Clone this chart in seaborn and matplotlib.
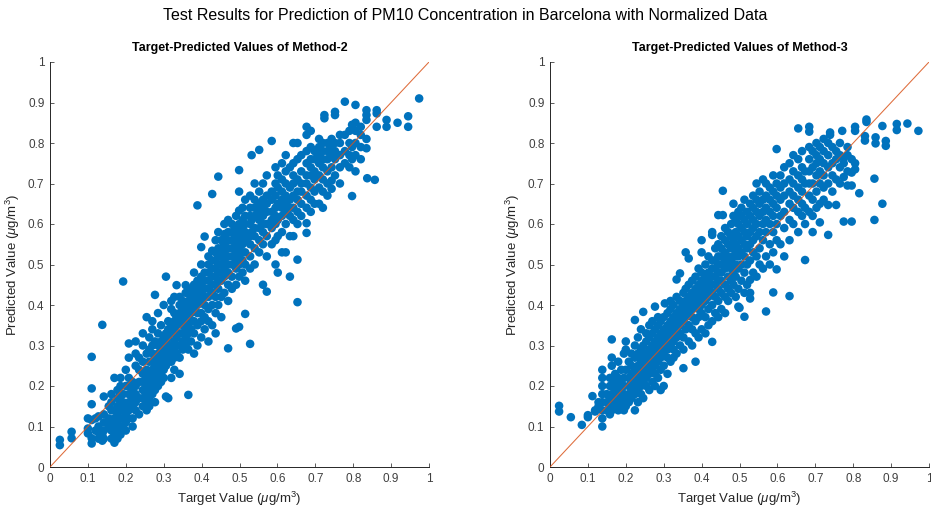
import matplotlib
matplotlib.use("Agg")
import matplotlib.pyplot as plt
import seaborn as sns
import numpy as np
import pandas as pd
from matplotlib.ticker import FuncFormatter, MultipleLocator

# ---------------- data ----------------
suptitle = "Test Results for Prediction of PM10 Concentration in Barcelona with Normalized Data"
titles = ["Target-Predicted Values of Method-2", "Target-Predicted Values of Method-3"]
xlabel = r"Target Value ($\mathit{\mu}$g/m$^3$)"
ylabel = r"Predicted Value ($\mathit{\mu}$g/m$^3$)"
tick_values = [0, 0.1, 0.2, 0.3, 0.4, 0.5, 0.6, 0.7, 0.8, 0.9, 1]

# Method-2: target value columns and the predicted values found in each column
m2_target = [0.026, 0.057, 0.100, 0.110, 0.120, 0.128, 0.138, 0.142, 0.155, 0.162,
             0.170, 0.178, 0.186, 0.193, 0.200, 0.208, 0.218, 0.226, 0.235, 0.245,
             0.255, 0.262, 0.270, 0.277, 0.285, 0.293, 0.300, 0.306, 0.312, 0.320,
             0.328, 0.334, 0.342, 0.350, 0.358, 0.365, 0.372, 0.380, 0.389, 0.399,
             0.408, 0.418, 0.428, 0.437, 0.444, 0.452, 0.460, 0.470, 0.480, 0.491,
             0.499, 0.508, 0.515, 0.528, 0.532, 0.540, 0.552, 0.562, 0.572, 0.585,
             0.595, 0.601, 0.612, 0.622, 0.633, 0.642, 0.653, 0.663, 0.677, 0.688,
             0.698, 0.710, 0.720, 0.724, 0.732, 0.743, 0.752, 0.765, 0.778, 0.790,
             0.797, 0.806, 0.820, 0.835, 0.837, 0.857, 0.862, 0.888, 0.917, 0.945,
             0.974]
m2_pred = [
    [0.054, 0.067], [0.071, 0.087], [0.083, 0.095, 0.12],
    [0.058, 0.071, 0.116, 0.155, 0.194, 0.272], [0.09, 0.12],
    [0.07, 0.085, 0.1, 0.125], [0.351, 0.065, 0.08],
    [0.07, 0.09, 0.11, 0.13, 0.174], [0.1, 0.12, 0.15],
    [0.07, 0.09, 0.11, 0.14, 0.16, 0.18],
    [0.06, 0.08, 0.1, 0.12, 0.14, 0.22],
    [0.07, 0.09, 0.11, 0.13, 0.15, 0.17, 0.19],
    [0.08, 0.1, 0.12, 0.14, 0.16, 0.18, 0.2, 0.22],
    [0.458, 0.1, 0.12, 0.14, 0.16, 0.18],
    [0.09, 0.11, 0.13, 0.15, 0.2, 0.24],
    [0.12, 0.14, 0.16, 0.18, 0.2, 0.22, 0.305, 0.27],
    [0.1, 0.12, 0.15, 0.17, 0.19, 0.21],
    [0.14, 0.16, 0.18, 0.2, 0.25, 0.28, 0.31],
    [0.13, 0.17, 0.21, 0.24, 0.27],
    [0.15, 0.17, 0.19, 0.21, 0.23, 0.26, 0.3, 0.33],
    [0.14, 0.16, 0.18, 0.2, 0.22, 0.24, 0.28, 0.37],
    [0.15, 0.17, 0.19, 0.21, 0.23, 0.26, 0.29, 0.32],
    [0.18, 0.2, 0.22, 0.24, 0.26, 0.28, 0.3, 0.34, 0.36],
    [0.16, 0.19, 0.21, 0.23, 0.25, 0.27, 0.31, 0.425],
    [0.2, 0.22, 0.24, 0.26, 0.28, 0.3, 0.33, 0.38],
    [0.21, 0.23, 0.25, 0.27, 0.29, 0.31, 0.35],
    [0.22, 0.24, 0.26, 0.28, 0.3, 0.32, 0.4],
    [0.174, 0.25, 0.27, 0.29, 0.31, 0.33, 0.47],
    [0.17, 0.26, 0.28, 0.3, 0.32, 0.34, 0.36],
    [0.22, 0.26, 0.28, 0.3, 0.33, 0.35, 0.39, 0.41],
    [0.24, 0.27, 0.29, 0.31, 0.34, 0.36, 0.38, 0.42],
    [0.28, 0.3, 0.32, 0.35, 0.37, 0.449],
    [0.23, 0.27, 0.3, 0.33, 0.36, 0.38, 0.4, 0.42],
    [0.29, 0.31, 0.33, 0.35, 0.37, 0.39, 0.41],
    [0.3, 0.32, 0.34, 0.36, 0.38, 0.4, 0.43, 0.449],
    [0.178, 0.29, 0.33, 0.35, 0.37, 0.39, 0.41],
    [0.31, 0.34, 0.36, 0.38, 0.4, 0.42, 0.44],
    [0.28, 0.33, 0.36, 0.39, 0.41, 0.43, 0.45, 0.48],
    [0.3, 0.35, 0.38, 0.4, 0.42, 0.44, 0.46, 0.646],
    [0.32, 0.36, 0.38, 0.41, 0.43, 0.45, 0.47, 0.5, 0.543],
    [0.34, 0.37, 0.4, 0.42, 0.44, 0.46, 0.48, 0.569],
    [0.31, 0.36, 0.39, 0.42, 0.44, 0.46, 0.48, 0.5, 0.52],
    [0.35, 0.4, 0.43, 0.45, 0.47, 0.49, 0.51, 0.534, 0.674],
    [0.33, 0.38, 0.42, 0.45, 0.47, 0.49, 0.51, 0.53, 0.56],
    [0.4, 0.44, 0.46, 0.48, 0.5, 0.52, 0.54, 0.58, 0.717],
    [0.37, 0.42, 0.46, 0.48, 0.5, 0.52, 0.54, 0.56],
    [0.43, 0.47, 0.49, 0.51, 0.53, 0.55, 0.575, 0.6],
    [0.293, 0.41, 0.45, 0.48, 0.5, 0.52, 0.54, 0.56, 0.58, 0.61],
    [0.44, 0.47, 0.5, 0.52, 0.54, 0.56, 0.58, 0.6],
    [0.342, 0.45, 0.49, 0.51, 0.53, 0.55, 0.57, 0.59, 0.62],
    [0.346, 0.47, 0.5, 0.52, 0.54, 0.56, 0.58, 0.6, 0.633, 0.68, 0.733],
    [0.48, 0.51, 0.53, 0.55, 0.57, 0.59, 0.61, 0.64],
    [0.378, 0.46, 0.5, 0.53, 0.56, 0.58, 0.6, 0.62, 0.66],
    [0.304, 0.49, 0.52, 0.55, 0.57, 0.6, 0.62, 0.64, 0.67],
    [0.77, 0.58, 0.61],
    [0.5, 0.54, 0.57, 0.59, 0.62, 0.64, 0.66, 0.7],
    [0.53, 0.56, 0.59, 0.61, 0.63, 0.65, 0.68, 0.783],
    [0.45, 0.55, 0.58, 0.6, 0.62, 0.64, 0.66, 0.7],
    [0.433, 0.52, 0.57, 0.6, 0.63, 0.65, 0.67, 0.72],
    [0.55, 0.59, 0.61, 0.63, 0.66, 0.68, 0.805],
    [0.5, 0.56, 0.6, 0.62, 0.64, 0.67, 0.7, 0.74],
    [0.48, 0.57, 0.61, 0.65, 0.69, 0.72],
    [0.53, 0.58, 0.62, 0.64, 0.66, 0.68, 0.71, 0.75],
    [0.53, 0.6, 0.63, 0.65, 0.67, 0.7, 0.73, 0.77],
    [0.47, 0.57, 0.62, 0.64, 0.66, 0.69, 0.74],
    [0.57, 0.61, 0.64, 0.67, 0.7, 0.72, 0.75, 0.8],
    [0.407, 0.512, 0.6, 0.63, 0.66, 0.68, 0.71, 0.76, 0.8],
    [0.62, 0.65, 0.68, 0.7, 0.73, 0.77],
    [0.578, 0.602, 0.64, 0.67, 0.7, 0.72, 0.75, 0.78, 0.82, 0.84],
    [0.63, 0.66, 0.69, 0.72, 0.74, 0.76, 0.79, 0.83],
    [0.65, 0.68, 0.71, 0.73, 0.76, 0.78],
    [0.65, 0.69, 0.72, 0.75, 0.77, 0.79, 0.81],
    [0.64, 0.68, 0.71, 0.74, 0.76, 0.78, 0.8],
    [0.861, 0.869],
    [0.67, 0.7, 0.73, 0.76, 0.78, 0.8],
    [0.687, 0.707, 0.74, 0.77, 0.79, 0.81],
    [0.72, 0.76, 0.78, 0.8, 0.869, 0.877],
    [0.7, 0.74, 0.77, 0.8, 0.82],
    [0.75, 0.78, 0.82, 0.902],
    [0.74, 0.77, 0.8, 0.83],
    [0.669, 0.76, 0.79, 0.845],
    [0.73, 0.77, 0.8, 0.83, 0.85, 0.894],
    [0.76, 0.79, 0.82, 0.84],
    [0.787, 0.81, 0.857, 0.869, 0.881],
    [0.713], [0.709], [0.84, 0.873, 0.881], [0.84, 0.857], [0.85],
    [0.84, 0.866], [0.91],
]

# Method-3: target value columns and the predicted values found in each column
m3_target = [0.024, 0.055, 0.084, 0.100, 0.112, 0.119, 0.128, 0.138, 0.150, 0.158,
             0.163, 0.172, 0.180, 0.188, 0.195, 0.200, 0.208, 0.215, 0.224, 0.232,
             0.240, 0.246, 0.254, 0.262, 0.270, 0.277, 0.285, 0.292, 0.300, 0.303,
             0.310, 0.318, 0.326, 0.334, 0.343, 0.352, 0.358, 0.366, 0.375, 0.384,
             0.392, 0.400, 0.410, 0.418, 0.428, 0.436, 0.444, 0.452, 0.456, 0.462,
             0.470, 0.478, 0.484, 0.490, 0.497, 0.500, 0.505, 0.513, 0.520, 0.528,
             0.536, 0.545, 0.553, 0.562, 0.570, 0.580, 0.589, 0.598, 0.608, 0.618,
             0.632, 0.642, 0.655, 0.665, 0.673, 0.684, 0.693, 0.703, 0.712, 0.722,
             0.734, 0.739, 0.745, 0.755, 0.765, 0.771, 0.775, 0.785, 0.796, 0.805,
             0.816, 0.831, 0.835, 0.856, 0.859, 0.877, 0.886, 0.915, 0.943, 0.972]
m3_pred = [
    [0.137, 0.151], [0.123], [0.104], [0.123, 0.128], [0.175], [0.137, 0.14],
    [0.15, 0.16],
    [0.1, 0.12, 0.14, 0.16, 0.18, 0.2, 0.22, 0.24],
    [0.14, 0.16, 0.18],
    [0.13, 0.15, 0.17, 0.2, 0.22],
    [0.14, 0.16, 0.18, 0.2, 0.25, 0.27, 0.315],
    [0.15, 0.17, 0.19, 0.21, 0.23],
    [0.14, 0.16, 0.18, 0.2, 0.22, 0.26],
    [0.15, 0.17, 0.19, 0.21, 0.24],
    [0.14, 0.16, 0.18, 0.2, 0.22, 0.28],
    [0.15, 0.17, 0.24, 0.29, 0.31],
    [0.16, 0.18, 0.2, 0.22, 0.26],
    [0.17, 0.19, 0.21, 0.23, 0.25, 0.28],
    [0.14, 0.18, 0.2, 0.22, 0.24, 0.27, 0.3, 0.363],
    [0.16, 0.19, 0.21, 0.23, 0.25, 0.28, 0.32],
    [0.18, 0.2, 0.22, 0.24, 0.26, 0.29, 0.34],
    [0.17, 0.21, 0.23, 0.25, 0.27, 0.3, 0.383],
    [0.2, 0.22, 0.24, 0.26, 0.28, 0.31, 0.33],
    [0.19, 0.23, 0.25, 0.27, 0.29, 0.32, 0.35],
    [0.21, 0.24, 0.26, 0.28, 0.3, 0.33, 0.36],
    [0.2, 0.23, 0.25, 0.27, 0.29, 0.31, 0.34, 0.396],
    [0.22, 0.26, 0.28, 0.3, 0.32, 0.35, 0.37],
    [0.19, 0.24, 0.27, 0.29, 0.31, 0.33, 0.36],
    [0.2, 0.25, 0.28, 0.3, 0.32, 0.34, 0.37],
    [0.404],
    [0.23, 0.27, 0.29, 0.31, 0.33, 0.35, 0.38],
    [0.26, 0.3, 0.32, 0.34, 0.36, 0.39, 0.41],
    [0.27, 0.29, 0.31, 0.33, 0.35, 0.37, 0.4],
    [0.28, 0.32, 0.34, 0.36, 0.38, 0.42, 0.463],
    [0.3, 0.33, 0.35, 0.37, 0.39, 0.41, 0.478],
    [0.244, 0.29, 0.32, 0.36, 0.38, 0.4, 0.43],
    [0.34, 0.37, 0.39, 0.41, 0.44, 0.53],
    [0.31, 0.35, 0.38, 0.4, 0.42, 0.45, 0.515],
    [0.3, 0.34, 0.37, 0.39, 0.41, 0.43, 0.46],
    [0.26, 0.33, 0.36, 0.4, 0.42, 0.44, 0.47],
    [0.32, 0.37, 0.39, 0.41, 0.43, 0.45, 0.49],
    [0.34, 0.38, 0.4, 0.42, 0.44, 0.46, 0.48, 0.53, 0.56],
    [0.33, 0.37, 0.41, 0.43, 0.45, 0.47, 0.5],
    [0.35, 0.39, 0.42, 0.44, 0.46, 0.48, 0.52],
    [0.309, 0.36, 0.4, 0.43, 0.45, 0.47, 0.49, 0.51, 0.573, 0.58],
    [0.38, 0.42, 0.45, 0.47, 0.49, 0.51, 0.54],
    [0.37, 0.41, 0.44, 0.46, 0.48, 0.5, 0.52, 0.55, 0.622],
    [0.39, 0.43, 0.46, 0.48, 0.5, 0.52, 0.54, 0.57],
    [0.622, 0.682],
    [0.38, 0.42, 0.45, 0.49, 0.51, 0.53, 0.56, 0.59],
    [0.41, 0.44, 0.47, 0.5, 0.52, 0.55, 0.58],
    [0.43, 0.46, 0.49, 0.51, 0.54, 0.57, 0.6],
    [0.45, 0.48, 0.52, 0.56, 0.62, 0.65],
    [0.42, 0.47, 0.5, 0.53, 0.55, 0.58, 0.61],
    [0.396, 0.44, 0.49, 0.52, 0.54, 0.57, 0.6, 0.63],
    [0.393],
    [0.46, 0.5, 0.53, 0.56, 0.59, 0.62, 0.64],
    [0.371, 0.43, 0.48, 0.52, 0.55, 0.58, 0.61, 0.66],
    [0.45, 0.5, 0.54, 0.57, 0.6, 0.63],
    [0.416, 0.43, 0.462, 0.51, 0.55, 0.58, 0.62, 0.65],
    [0.48, 0.53, 0.56, 0.59, 0.61, 0.64, 0.67],
    [0.47, 0.52, 0.57, 0.6, 0.63, 0.66, 0.7],
    [0.5, 0.54, 0.58, 0.62, 0.65, 0.68],
    [0.49, 0.56, 0.6, 0.63, 0.66, 0.71],
    [0.384, 0.52, 0.58, 0.61, 0.64, 0.67, 0.7],
    [0.5, 0.55, 0.6, 0.63, 0.66, 0.69],
    [0.431, 0.53, 0.58, 0.62, 0.65, 0.68, 0.72],
    [0.488, 0.56, 0.6, 0.64, 0.67, 0.7, 0.785],
    [0.55, 0.62, 0.66, 0.69, 0.72],
    [0.52, 0.59, 0.63, 0.67, 0.7, 0.74],
    [0.422, 0.56, 0.61, 0.65, 0.68, 0.71, 0.75],
    [0.6, 0.64, 0.67, 0.7, 0.73, 0.77],
    [0.58, 0.63, 0.66, 0.69, 0.72, 0.76, 0.836],
    [0.62, 0.65, 0.68, 0.71, 0.74, 0.78],
    [0.511, 0.6, 0.64, 0.7, 0.73],
    [0.63, 0.67, 0.7, 0.73, 0.76, 0.79, 0.828, 0.84],
    [0.58, 0.62, 0.66, 0.7, 0.74, 0.78],
    [0.64, 0.68, 0.72, 0.75, 0.77, 0.8],
    [0.604, 0.65, 0.7, 0.73, 0.76, 0.79],
    [0.66, 0.69, 0.72, 0.75, 0.78, 0.81],
    [0.573, 0.647, 0.7, 0.74, 0.77, 0.8],
    [0.82, 0.826],
    [0.68, 0.72, 0.75, 0.79],
    [0.647, 0.71, 0.76, 0.78],
    [0.7, 0.74, 0.77, 0.8],
    [0.83],
    [0.606, 0.716, 0.75, 0.762],
    [0.695, 0.73, 0.77, 0.79],
    [0.606, 0.695, 0.727, 0.76],
    [0.735, 0.75, 0.83, 0.84],
    [0.676],
    [0.806, 0.817], [0.852, 0.858], [0.61, 0.712], [0.799, 0.814],
    [0.65, 0.842], [0.793, 0.805], [0.832, 0.847], [0.848], [0.83],
]


def to_frame(targets, preds):
    rows = [(t, p) for t, col in zip(targets, preds) for p in col]
    return pd.DataFrame(rows, columns=["target", "predicted"])


frames = [to_frame(m2_target, m2_pred), to_frame(m3_target, m3_pred)]

# ---------------- style ----------------
sns.set_theme(style="white")
plt.rcParams["font.family"] = ["Liberation Sans", "DejaVu Sans"]
plt.rcParams["mathtext.fontset"] = "custom"
plt.rcParams["mathtext.rm"] = "Liberation Sans"
plt.rcParams["mathtext.it"] = "Liberation Sans:italic"
plt.rcParams["mathtext.default"] = "regular"

point_color = "#0072BD"
line_color = "#D95319"
axis_color = "#262626"
tick_color = "#404040"

fig = plt.figure(figsize=(9.31, 5.12), dpi=100)
fig.patch.set_facecolor("white")
ax_w = 379 / 931
ax_h = 405 / 512
ax_b = (512 - 467) / 512
axes = [fig.add_axes([50 / 931, ax_b, ax_w, ax_h]),
        fig.add_axes([550 / 931, ax_b, ax_w, ax_h])]

fmt = FuncFormatter(lambda v, _: f"{v:g}")

for ax, df, title in zip(axes, frames, titles):
    sns.scatterplot(data=df, x="target", y="predicted", ax=ax, s=38,
                    color=point_color, edgecolor="none", linewidth=0, zorder=2)
    ax.plot([0, 1], [0, 1], color=line_color, lw=0.75, alpha=0.85, zorder=3)
    ax.set_xlim(0, 1)
    ax.set_ylim(0, 1)
    ax.set_xticks(tick_values)
    ax.set_yticks(tick_values)
    ax.xaxis.set_major_formatter(fmt)
    ax.yaxis.set_major_formatter(fmt)
    ax.tick_params(direction="in", length=3, width=0.6, colors=tick_color,
                   labelsize=8.5, pad=4, bottom=True, left=True)
    for side in ["top", "right"]:
        ax.spines[side].set_visible(False)
    for side in ["left", "bottom"]:
        ax.spines[side].set_color(axis_color)
        ax.spines[side].set_linewidth(0.7)
    ax.set_xlabel(xlabel, fontsize=9.5, color=axis_color, labelpad=4)
    ax.set_ylabel(ylabel, fontsize=9.5, color=axis_color, labelpad=4)
    ax.set_title(title, fontsize=9, fontweight="bold", color="black", pad=8)
    ax.set_facecolor("white")

fig.suptitle(suptitle, fontsize=11.5, y=0.985, color="black")

fig.savefig("out.png", dpi=100, facecolor="white")
